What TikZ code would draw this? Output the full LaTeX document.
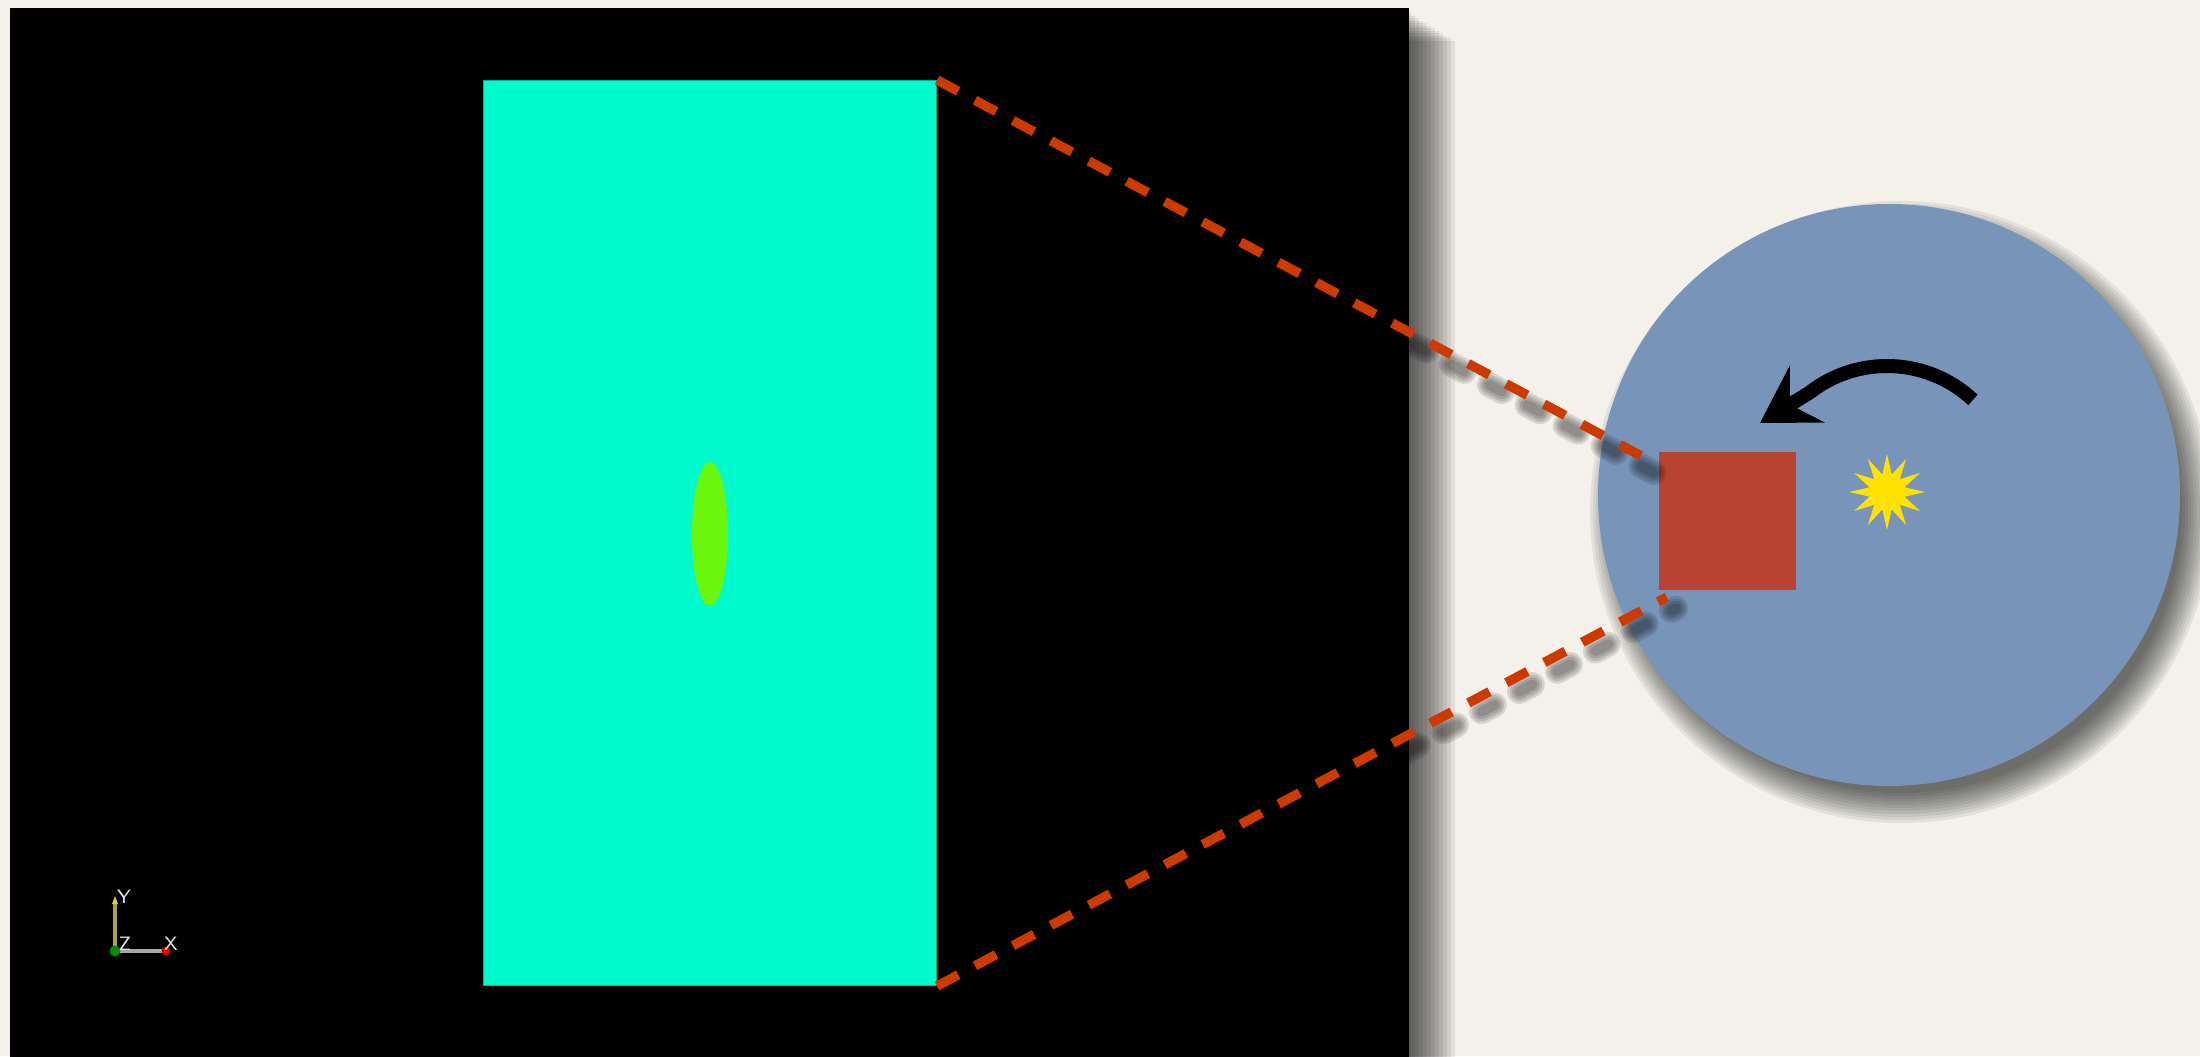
\documentclass[tikz,border=0pt]{standalone}
\usepackage{tikz}
\usetikzlibrary{
    arrows.meta,
    positioning,
    shapes.geometric
}
\definecolor{paper}{RGB}{244,241,234}
\definecolor{fluid}{RGB}{0,250,204}
\definecolor{drop}{RGB}{108,246,14}
\definecolor{disk}{RGB}{120,148,185}
\definecolor{brick}{RGB}{184,67,51}
\definecolor{spark}{RGB}{255,226,0}
\definecolor{zoomred}{RGB}{204,58,0}
\definecolor{yaxis}{RGB}{170,160,90}
\tikzstyle{zoomline} = [zoomred, line width=0.095cm, dash pattern=on 0.24cm off 0.19cm]
\tikzstyle{zoomshade} = [black, opacity=0.12, line cap=round, dash pattern=on 0.145cm off 0.285cm, dash phase=0.3825cm]
\tikzstyle{softshade} = [black, opacity=0.075]
\tikzstyle{axislabel} = [font=\sffamily\fontsize{5.5}{6}\selectfont, text=gray!25, inner sep=0pt]
\tikzstyle{rotarrow} = [line width=0.14cm, -{Stealth[length=0.55cm, width=0.66cm, inset=0.2cm]}]

\begin{document}
\begin{tikzpicture}
\useasboundingbox (0,0) rectangle (22,10.56);
\clip (0,0) rectangle (22,10.56);
\fill[paper] (0,0) rectangle (22,10.56);
% simulation window
\foreach \k in {1,...,12}
  \fill[softshade] (0.3,-0.5) rectangle (14.07+0.04*\k, 10.45-0.025*\k);
\fill[black] (0.10,-0.5) rectangle (14.09,10.48);
\node[fill=fluid, draw=fluid!70!black, line width=0.3pt, minimum width=4.53cm, minimum height=9.05cm, inner sep=0pt, anchor=north west] (domain) at (4.83,9.76) {};
\node[ellipse, fill=drop, minimum width=0.36cm, minimum height=1.44cm, inner sep=0pt] (bubble) at (7.10,5.22) {};
% axis triad
\coordinate (o) at (1.15,1.05);
\draw[yaxis, line width=1.4pt] (o) -- (1.15,1.55);
\fill[yellow!85!black] (1.12,1.52) -- (1.18,1.52) -- (1.15,1.60) -- cycle;
\draw[gray!70, line width=1.2pt] (o) -- (1.64,1.05);
\fill[red!85!black] (1.66,1.05) circle (0.045);
\fill[green!55!black] (o) circle (0.055);
\node[axislabel] (ylab) at (1.24,1.59) {Y};
\node[axislabel] (zlab) at (1.25,1.12) {Z};
\node[axislabel] (xlab) at (1.71,1.12) {X};
% zoomed region
\foreach \k in {1,...,11}
  \fill[softshade, opacity=0.065] (19.01,5.44) circle (2.78+0.03*\k);
\node[circle, fill=disk, minimum size=5.82cm, inner sep=0pt] (disk) at (18.89,5.61) {};
\node[fill=brick, minimum size=1.37cm, inner sep=0pt] (zoombox) at (17.27,5.35) {};
\node[star, star points=12, star point ratio=2.1, fill=spark, minimum size=0.76cm, inner sep=0pt] (spark) at (18.87,5.64) {};
\draw[rotarrow] ([shift={(47:1.26)}]spark.center) arc[start angle=47, end angle=128, radius=1.26] -- (17.60,6.33);
% zoom lines with soft shadow
\foreach \w in {0.25,0.20,0.15,0.10}{
  \draw[zoomshade, line width=\w cm] ([shift={(0.17,-0.19)}]domain.north east) -- ([shift={(0.00,-0.23)}]zoombox.north west);
  \draw[zoomshade, line width=\w cm] ([shift={(0.09,-0.11)}]domain.south east) -- ([shift={(0.18,-0.18)}]zoombox.south west);
}
\draw[zoomline] (domain.north east) -- ([xshift=-1.7mm,yshift=-0.4mm]zoombox.north west);
\draw[zoomline] (domain.south east) -- ([xshift=0.9mm,yshift=-0.7mm]zoombox.south west);
\end{tikzpicture}
\end{document}
